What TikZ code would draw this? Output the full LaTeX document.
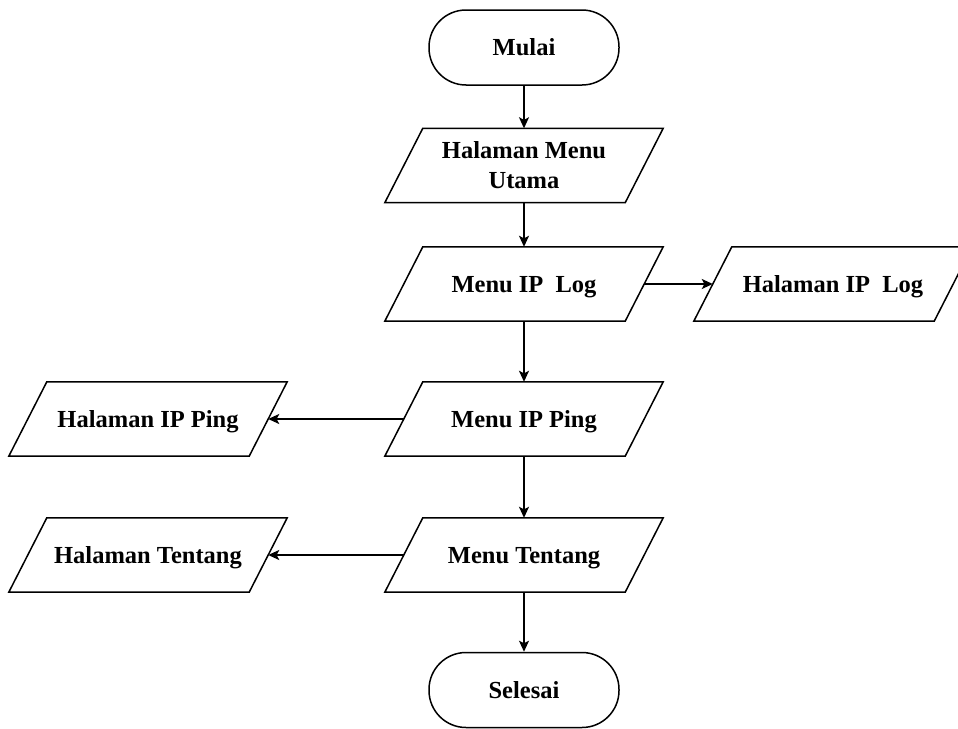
\documentclass[tikz,border=0pt]{standalone}
\usepackage{fontspec}
\setmainfont{Liberation Serif}
\usetikzlibrary{arrows.meta}
\begin{document}
\begin{tikzpicture}[x=1pt,y=-1pt,
  every node/.style={font=\fontsize{24.5}{30}\selectfont\bfseries, inner sep=0pt},
  terminal/.style={rectangle, draw, line width=1.5pt, rounded corners=37pt,
    minimum width=190pt, minimum height=75pt},
  iobox/.style={rectangle, minimum width=240pt, minimum height=74pt, align=center},
  oneline/.style={text height=16.2pt, text depth=0pt},
  slant/.style={line width=1.5pt, line join=miter},
  flow/.style={line width=1.5pt, -{Stealth[length=11pt,width=10pt,inset=2.5pt]}}]
\useasboundingbox (0,0) rectangle (958,728);

% start and end terminals
\node[terminal, oneline] (mulai) at (524,47.5) {Mulai};
\node[terminal, oneline] (selesai) at (524,690) {Selesai};

% input/output boxes (drawn as parallelograms below)
\node[iobox] (utama) at (524,165.5) {Halaman Menu\\Utama};
\node[iobox, oneline] (iplog) at (524,284) {Menu IP\ \ Log};
\node[iobox, oneline] (haliplog) at (833,284) {Halaman IP\ \ Log};
\node[iobox, oneline] (ipping) at (524,419) {Menu IP Ping};
\node[iobox, oneline] (halipping) at (148,419) {Halaman IP Ping};
\node[iobox, oneline] (tentang) at (524,555) {Menu Tentang};
\node[iobox, oneline] (haltentang) at (148,555) {Halaman Tentang};

\foreach \n in {utama,iplog,haliplog,ipping,halipping,tentang,haltentang}
  \draw[slant] ([xshift=19pt]\n.north west) -- ([xshift=19pt]\n.north east)
    -- ([xshift=-19pt]\n.south east) -- ([xshift=-19pt]\n.south west) -- cycle;

% connectors
\draw[flow] (mulai.south) -- (utama.north);
\draw[flow] (utama.south) -- (iplog.north);
\draw[flow] (iplog.east) -- (haliplog.west);
\draw[flow] (iplog.south) -- (ipping.north);
\draw[flow] (ipping.west) -- (halipping.east);
\draw[flow] (ipping.south) -- (tentang.north);
\draw[flow] (tentang.west) -- (haltentang.east);
\draw[flow] (tentang.south) -- (selesai.north);
\end{tikzpicture}
\end{document}
